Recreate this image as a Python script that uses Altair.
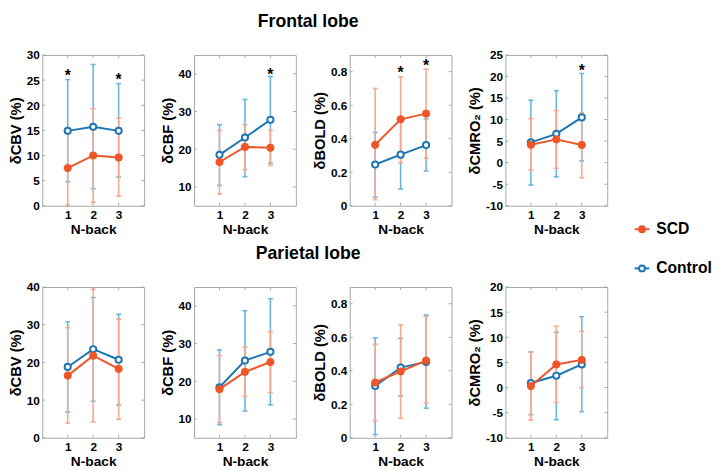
import altair as alt
import pandas as pd

FONT = "Liberation Sans"
ORANGE = "#EF5527"
BLUE = "#1D76B2"
ORANGE_ERR = "#F6A98D"
BLUE_ERR = "#6CB4DE"
FRAME = "#A6A6A6"
W, H = 104, 154

nback = [1, 2, 3]
groups = ["SCD", "Control"]

# ---------------- Frontal lobe ----------------
f_cbv_scd = [7.5, 10.0, 9.6]
f_cbv_scd_lo = [0.1, 0.7, 1.9]
f_cbv_scd_hi = [14.9, 19.3, 17.4]
f_cbv_ctl = [14.9, 15.7, 14.9]
f_cbv_ctl_lo = [4.8, 3.4, 5.7]
f_cbv_ctl_hi = [25.1, 28.1, 24.3]
f_cbv_star_x = [1, 3]
f_cbv_star_y = [26.6, 25.8]

f_cbf_scd = [16.6, 20.6, 20.4]
f_cbf_scd_lo = [8.1, 14.6, 15.7]
f_cbf_scd_hi = [25.0, 26.5, 25.0]
f_cbf_ctl = [18.5, 23.1, 27.8]
f_cbf_ctl_lo = [10.4, 12.7, 16.3]
f_cbf_ctl_hi = [26.5, 33.2, 39.3]
f_cbf_star_x = [3]
f_cbf_star_y = [40.7]

f_bold_scd = [0.364, 0.516, 0.55]
f_bold_scd_lo = [0.036, 0.257, 0.284]
f_bold_scd_hi = [0.70, 0.77, 0.815]
f_bold_ctl = [0.246, 0.305, 0.362]
f_bold_ctl_lo = [0.051, 0.10, 0.208]
f_bold_ctl_hi = [0.438, 0.51, 0.518]
f_bold_star_x = [2, 3]
f_bold_star_y = [0.817, 0.855]

f_cmro2_scd = [4.15, 5.4, 4.1]
f_cmro2_scd_lo = [-1.7, -1.3, -3.5]
f_cmro2_scd_hi = [10.2, 12.1, 11.6]
f_cmro2_ctl = [4.7, 6.7, 10.5]
f_cmro2_ctl_lo = [-5.2, -3.3, 0.4]
f_cmro2_ctl_hi = [14.5, 16.7, 20.7]
f_cmro2_star_x = [3]
f_cmro2_star_y = [22.2]

# ---------------- Parietal lobe ----------------
p_cbv_scd = [16.5, 21.8, 18.3]
p_cbv_scd_lo = [3.9, 4.2, 4.9]
p_cbv_scd_hi = [29.2, 39.4, 31.5]
p_cbv_ctl = [18.8, 23.5, 20.7]
p_cbv_ctl_lo = [6.8, 9.7, 8.7]
p_cbv_ctl_hi = [30.8, 37.2, 32.8]

p_cbf_scd = [17.9, 22.5, 25.1]
p_cbf_scd_lo = [9.1, 16.0, 17.0]
p_cbf_scd_hi = [26.8, 29.1, 33.2]
p_cbf_ctl = [18.4, 25.5, 27.8]
p_cbf_ctl_lo = [8.5, 12.1, 13.75]
p_cbf_ctl_hi = [28.3, 38.7, 41.9]

p_bold_scd = [0.33, 0.396, 0.461]
p_bold_scd_lo = [0.103, 0.116, 0.208]
p_bold_scd_hi = [0.558, 0.674, 0.726]
p_bold_ctl = [0.309, 0.419, 0.453]
p_bold_ctl_lo = [0.019, 0.25, 0.177]
p_bold_ctl_hi = [0.596, 0.594, 0.733]

p_cmro2_scd = [0.3, 4.6, 5.5]
p_cmro2_scd_lo = [-6.5, -3.0, 0.0]
p_cmro2_scd_hi = [7.1, 12.2, 11.2]
p_cmro2_ctl = [0.9, 2.35, 4.6]
p_cmro2_ctl_lo = [-5.4, -6.4, -4.8]
p_cmro2_ctl_hi = [7.1, 11.0, 14.1]

# axis settings
titles = ["δCBV (%)", "δCBF (%)", "δBOLD (%)", "δCMRO₂ (%)"]
f_domains = [[0, 30], [5, 45], [0, 0.9], [-10, 25]]
p_domains = [[0, 40], [5, 45], [0, 0.9], [-10, 20]]
f_ticks = [[0, 5, 10, 15, 20, 25, 30], [10, 20, 30, 40], [0, 0.2, 0.4, 0.6, 0.8],
           [-10, -5, 0, 5, 10, 15, 20, 25]]
p_ticks = [[0, 10, 20, 30, 40], [10, 20, 30, 40], [0, 0.2, 0.4, 0.6, 0.8],
           [-10, -5, 0, 5, 10, 15, 20]]
formats = ["d", "d", ".1~f", "d"]


def make_df(scd, scd_lo, scd_hi, ctl, ctl_lo, ctl_hi):
    rows = []
    for g, m, lo, hi in [("SCD", scd, scd_lo, scd_hi), ("Control", ctl, ctl_lo, ctl_hi)]:
        for x, a, b, c in zip(nback, m, lo, hi):
            rows.append({"group": g, "x": x, "mean": a, "lo": b, "hi": c})
    return pd.DataFrame(rows)


def panel(df, title, domain, ticks, fmt, star_x=None, star_y=None):
    xs = alt.Scale(domain=[0, 4], nice=False, zero=False)
    ys = alt.Scale(domain=domain, nice=False, zero=False)
    xaxis = alt.Axis(values=[1, 2, 3], title="N-back", titleFontSize=14, titlePadding=2,
                     labelPadding=4, labelFontSize=12, format="d")
    yaxis = alt.Axis(values=ticks, title=title, titleFontSize=15, titlePadding=3,
                     labelPadding=3, labelFontSize=12, format=fmt,
                     labelExpr="replace(datum.label, '\u2212', '-')")

    def X(f="x"):
        return alt.X(f"{f}:Q", scale=xs, axis=xaxis)

    def Y(f):
        return alt.Y(f"{f}:Q", scale=ys, axis=yaxis)

    base = alt.Chart(df)
    layers = []
    for g, ecol in [("Control", BLUE_ERR), ("SCD", ORANGE_ERR)]:
        b = base.transform_filter(alt.datum.group == g)
        layers.append(b.mark_rule(color=ecol, strokeWidth=1.6).encode(x=X(), y=Y("lo"), y2="hi:Q"))
        for f in ["lo", "hi"]:
            layers.append(b.mark_rule(color=ecol, strokeWidth=1.6, xOffset=-2.5, x2Offset=2.5)
                          .encode(x=X(), x2="x:Q", y=Y(f)))
    for g, col in [("Control", BLUE), ("SCD", ORANGE)]:
        b = base.transform_filter(alt.datum.group == g)
        layers.append(b.mark_line(color=col, strokeWidth=2).encode(x=X(), y=Y("mean")))
        if g == "SCD":
            layers.append(b.mark_point(shape="circle", filled=True, fill=col, stroke=col,
                                       strokeWidth=1, size=55, opacity=1)
                          .encode(x=X(), y=Y("mean")))
        else:
            layers.append(b.mark_point(shape="circle", filled=True, fill="white", stroke=col,
                                       strokeWidth=2, size=40, opacity=1)
                          .encode(x=X(), y=Y("mean")))
    if star_x:
        sdf = pd.DataFrame({"x": star_x, "y": star_y})
        layers.append(alt.Chart(sdf).mark_text(text="*", fontSize=16, fontWeight="bold",
                                               font=FONT, color="black", baseline="middle", dy=4)
                      .encode(x=X(), y=Y("y")))
    ydf = pd.DataFrame({"v": ticks})
    xdf = pd.DataFrame({"v": nback})
    layers.append(alt.Chart(ydf).mark_rule(color=FRAME).encode(y=Y("v"), x=alt.value(0), x2=alt.value(3)))
    layers.append(alt.Chart(ydf).mark_rule(color=FRAME).encode(y=Y("v"), x=alt.value(W - 3), x2=alt.value(W)))
    layers.append(alt.Chart(xdf).mark_rule(color=FRAME).encode(x=X("v"), y=alt.value(H - 3), y2=alt.value(H)))
    layers.append(alt.Chart(xdf).mark_rule(color=FRAME).encode(x=X("v"), y=alt.value(0), y2=alt.value(3)))
    return alt.layer(*layers).properties(width=W, height=H)


f_data = [
    (make_df(f_cbv_scd, f_cbv_scd_lo, f_cbv_scd_hi, f_cbv_ctl, f_cbv_ctl_lo, f_cbv_ctl_hi), f_cbv_star_x, f_cbv_star_y),
    (make_df(f_cbf_scd, f_cbf_scd_lo, f_cbf_scd_hi, f_cbf_ctl, f_cbf_ctl_lo, f_cbf_ctl_hi), f_cbf_star_x, f_cbf_star_y),
    (make_df(f_bold_scd, f_bold_scd_lo, f_bold_scd_hi, f_bold_ctl, f_bold_ctl_lo, f_bold_ctl_hi), f_bold_star_x, f_bold_star_y),
    (make_df(f_cmro2_scd, f_cmro2_scd_lo, f_cmro2_scd_hi, f_cmro2_ctl, f_cmro2_ctl_lo, f_cmro2_ctl_hi), f_cmro2_star_x, f_cmro2_star_y),
]
p_data = [
    make_df(p_cbv_scd, p_cbv_scd_lo, p_cbv_scd_hi, p_cbv_ctl, p_cbv_ctl_lo, p_cbv_ctl_hi),
    make_df(p_cbf_scd, p_cbf_scd_lo, p_cbf_scd_hi, p_cbf_ctl, p_cbf_ctl_lo, p_cbf_ctl_hi),
    make_df(p_bold_scd, p_bold_scd_lo, p_bold_scd_hi, p_bold_ctl, p_bold_ctl_lo, p_bold_ctl_hi),
    make_df(p_cmro2_scd, p_cmro2_scd_lo, p_cmro2_scd_hi, p_cmro2_ctl, p_cmro2_ctl_lo, p_cmro2_ctl_hi),
]

row_title = dict(fontSize=18, fontWeight="bold", font=FONT, anchor="middle", offset=18, color="black")

row1 = alt.hconcat(
    *[panel(d, titles[i], f_domains[i], f_ticks[i], formats[i], sx, sy) for i, (d, sx, sy) in enumerate(f_data)],
    spacing=15,
).properties(title=alt.TitleParams("Frontal lobe", **row_title))

row2 = alt.hconcat(
    *[panel(d, titles[i], p_domains[i], p_ticks[i], formats[i]) for i, d in enumerate(p_data)],
    spacing=15,
).properties(title=alt.TitleParams("Parietal lobe", **row_title))

# legend
leg_df = pd.DataFrame({"group": groups})
ly = alt.Y("group:N", scale=alt.Scale(type="point", domain=groups, range=[178, 218], padding=0), axis=None)
leg_layers = []
for g, col, fill in [("SCD", ORANGE, ORANGE), ("Control", BLUE, "white")]:
    b = alt.Chart(leg_df).transform_filter(alt.datum.group == g)
    leg_layers.append(b.mark_rule(color=col, strokeWidth=2).encode(y=ly, x=alt.value(9), x2=alt.value(24)))
    leg_layers.append(b.mark_point(shape="circle", filled=True, fill=fill, stroke=col, strokeWidth=2,
                                   size=36, opacity=1).encode(y=ly, x=alt.value(16.5)))
    leg_layers.append(b.mark_text(align="left", baseline="middle", fontSize=16, fontWeight="bold",
                                  font=FONT, color="black").encode(y=ly, x=alt.value(31), text="group:N"))
legend = alt.layer(*leg_layers).properties(width=70, height=300, view=alt.ViewBackground(strokeOpacity=0))

chart = alt.hconcat(
    alt.vconcat(row1, row2, spacing=8),
    legend,
    spacing=18,
).properties(
    padding={"left": 0, "top": 0, "right": 0, "bottom": 0},
    background="white",
).configure_view(
    stroke=FRAME, strokeWidth=1
).configure_axis(
    domain=False, ticks=False, grid=False,
    labelFont=FONT, titleFont=FONT, labelFontWeight="bold", titleFontWeight="bold",
    labelColor="black", titleColor="black",
).configure_title(font=FONT, fontWeight="bold", color="black")

chart.save("out.html", embed_options={"renderer": "svg", "actions": False})
